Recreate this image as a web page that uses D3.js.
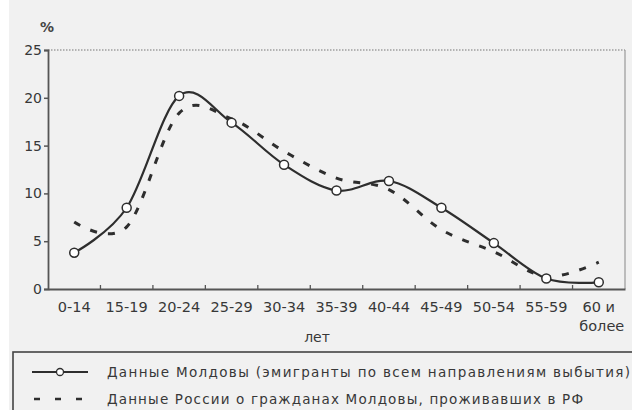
<!DOCTYPE html>
<html><head><meta charset="utf-8">
<script src="https://cdn.jsdelivr.net/npm/d3@7"></script>
<style>
html,body{margin:0;padding:0;background:#fff;}
svg{display:block;}
</style></head>
<body>
<svg id="chart" width="632" height="410"></svg>
<script>
const categories = ["0-14","15-19","20-24","25-29","30-34","35-39","40-44","45-49","50-54","55-59","60 и более"];
const moldova = [3.8, 8.5, 20.2, 17.4, 13.0, 10.3, 11.3, 8.5, 4.8, 1.1, 0.7];
const russia  = [7.0, 6.5, 18.4, 17.8, 14.4, 11.6, 10.4, 6.2, 3.9, 1.3, 2.8];
const yTicks = [0, 5, 10, 15, 20, 25];
const yLabel = "%";
const xLabel = "лет";
const legendLabels = [
  "Данные Молдовы (эмигранты по всем  направлениям  выбытия)",
  "Данные  России о гражданах Молдовы, проживавших в РФ"
];

const svg = d3.select("#chart");
const ink = "#383838";
svg.append("rect").attr("x",9).attr("y",0).attr("width",623).attr("height",410).attr("fill","#f1f1f1");

const x = d3.scaleBand().domain(categories).range([48, 625]).padding(0);
const y = d3.scaleLinear().domain([0, 25]).range([289, 50]);
const cx = d => x(d) + x.bandwidth()/2;

// frame: top dotted and right border
svg.append("line").attr("x1",48).attr("x2",625).attr("y1",y(25)).attr("y2",y(25))
  .attr("stroke","#777").attr("stroke-width",1.2).attr("stroke-dasharray","1.5,1.5");
svg.append("line").attr("x1",625).attr("x2",625).attr("y1",y(25)).attr("y2",y(0))
  .attr("stroke","#999").attr("stroke-width",1.2);

// y axis
const yAxis = svg.append("g").attr("transform","translate(48,0)")
  .call(d3.axisLeft(y).tickValues(yTicks).tickSize(4).tickPadding(2));
yAxis.select(".domain").attr("stroke","#555").attr("stroke-width",1.8);
yAxis.selectAll(".tick line").attr("stroke","#555").attr("stroke-width",1.5);
yAxis.selectAll("text").attr("font-family","DejaVu Sans, sans-serif").attr("font-size","14px").attr("fill",ink);

// x axis
const xAxis = svg.append("g").attr("transform",`translate(0,${y(0)})`)
  .call(d3.axisBottom(x).tickSize(0).tickPadding(12).tickFormat(() => ""));
xAxis.select(".domain").attr("stroke","#555").attr("stroke-width",1.8);
xAxis.selectAll(".bt").data(categories.slice(1)).enter().append("line")
  .attr("x1", d => x(d)).attr("x2", d => x(d)).attr("y1",0).attr("y2",-4)
  .attr("stroke","#555").attr("stroke-width",1.3);
const xl = svg.append("g");
categories.forEach(c => {
  const parts = c === "60 и более" ? ["60 и", "более"] : [c];
  parts.forEach((p, i) => {
    xl.append("text").attr("x", cx(c) + (i === 1 ? 3 : 0)).attr("y", 312 + i*19)
      .attr("text-anchor","middle").attr("font-family","DejaVu Sans, sans-serif")
      .attr("font-size","14.5px").attr("fill",ink).text(p);
  });
});
svg.append("text").attr("x",317).attr("y",342).attr("text-anchor","middle")
  .attr("font-family","DejaVu Sans, sans-serif").attr("font-size","14px").attr("fill",ink).text(xLabel);
svg.append("text").attr("x",47).attr("y",32).attr("text-anchor","middle")
  .attr("font-family","DejaVu Sans, sans-serif").attr("font-size","14px").attr("font-weight","bold").attr("fill","#444").text(yLabel);

// lines
const line = d3.line().x((d,i) => cx(categories[i])).y(d => y(d)).curve(d3.curveCardinal.tension(0));
svg.append("path").datum(russia).attr("d", line).attr("fill","none")
  .attr("stroke","#2e2e2e").attr("stroke-width",3).attr("stroke-dasharray","7,11");
svg.append("path").datum(moldova).attr("d", line).attr("fill","none")
  .attr("stroke","#2e2e2e").attr("stroke-width",2.2);
svg.selectAll(".pt").data(moldova).enter().append("circle")
  .attr("cx",(d,i) => cx(categories[i])).attr("cy", d => y(d)).attr("r",4.5)
  .attr("fill","#fff").attr("stroke","#2e2e2e").attr("stroke-width",1.5);

// legend
svg.append("rect").attr("x",13).attr("y",352).attr("width",640).attr("height",80)
  .attr("fill","none").attr("stroke","#444").attr("stroke-width",1.6);
const lg = svg.append("g");
lg.append("line").attr("x1",32).attr("x2",88).attr("y1",372).attr("y2",372).attr("stroke","#2e2e2e").attr("stroke-width",2);
lg.append("circle").attr("cx",60).attr("cy",372).attr("r",3.5).attr("fill","#fff").attr("stroke","#2e2e2e").attr("stroke-width",1.3);
lg.append("line").attr("x1",34).attr("x2",90).attr("y1",399).attr("y2",399).attr("stroke","#2e2e2e").attr("stroke-width",2.6).attr("stroke-dasharray","6,15");
[[372, 523], [399, 476]].forEach((p, i) => {
  lg.append("text").attr("x",107).attr("y",p[0]+5).attr("font-family","DejaVu Sans, sans-serif")
    .attr("font-size","13.5px").attr("fill",ink).attr("textLength",p[1]).attr("lengthAdjust","spacing").text(legendLabels[i]);
});
</script>
</body></html>
